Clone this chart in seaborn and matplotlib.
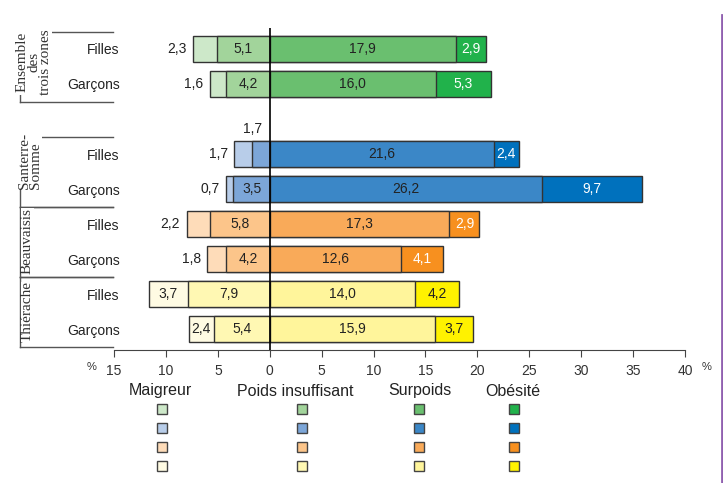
import pandas as pd
import matplotlib.pyplot as plt
import seaborn as sns
from matplotlib.patches import Rectangle
from matplotlib.lines import Line2D

# Données (en %)
rangees = ["Ensemble Filles", "Ensemble Garçons", "Santerre Filles", "Santerre Garçons",
           "Beauvaisis Filles", "Beauvaisis Garçons", "Thiérache Filles", "Thiérache Garçons"]
sexes = ["Filles", "Garçons", "Filles", "Garçons", "Filles", "Garçons", "Filles", "Garçons"]
zones = ["Ensemble\ndes\ntrois zones", "Santerre-\nSomme", "Beauvaisis", "Thiérache"]
maigreur = [2.3, 1.6, 1.7, 0.7, 2.2, 1.8, 3.7, 2.4]
poids_insuffisant = [5.1, 4.2, 1.7, 3.5, 5.8, 4.2, 7.9, 5.4]
surpoids = [17.9, 16.0, 21.6, 26.2, 17.3, 12.6, 14.0, 15.9]
obesite = [2.9, 5.3, 2.4, 9.7, 2.9, 4.1, 4.2, 3.7]
categories = ["Maigreur", "Poids insuffisant", "Surpoids", "Obésité"]

# couleurs par zone : maigreur, poids insuffisant, surpoids, obésité
couleurs = {
    "Ensemble": ["#cde8c9", "#a2d49b", "#6abf6f", "#21b24b"],
    "Santerre": ["#b8cde9", "#7ca6d8", "#3b87c7", "#0071bd"],
    "Beauvaisis": ["#fedcb9", "#fcc58a", "#f9aa59", "#f7901f"],
    "Thiérache": ["#fffbe3", "#fff8b3", "#fff59b", "#fff200"],
}

df = pd.DataFrame({"rangee": rangees, "m": maigreur, "p": poids_insuffisant,
                   "s": surpoids, "o": obesite})
df["zone"] = df["rangee"].str.split().str[0]
df["gauche_total"] = -(df["m"] + df["p"])
df["gauche_p"] = -df["p"]
df["droite_total"] = df["s"] + df["o"]
df["droite_s"] = df["s"]

# un emplacement vide entre l'ensemble et les zones
order = rangees[:2] + [" "] + rangees[2:]

plt.rcParams["font.family"] = ["Liberation Sans", "DejaVu Sans"]
fig = plt.figure(figsize=(7.23, 4.83), dpi=100)
ax = fig.add_axes([114 / 723, (483 - 350) / 483, 571 / 723, 322 / 483])

couches = [("gauche_total", 0), ("gauche_p", 1), ("droite_total", 3), ("droite_s", 2)]
for col, k in couches:
    pal = {r: couleurs[z][k] for r, z in zip(df["rangee"], df["zone"])}
    sns.barplot(data=df, x=col, y="rangee", hue="rangee", palette=pal, order=order,
                orient="h", width=0.77, edgecolor="#333333", linewidth=1,
                errorbar=None, legend=False, saturation=1, ax=ax)

ax.set_xlim(-15, 40)
ax.set_ylim(8.6, -0.6)
ax.axvline(0, color="black", lw=1.2, zorder=5)

def fr(v):
    return f"{v:.1f}".replace(".", ",")

for i, row in df.iterrows():
    y = order.index(row["rangee"])
    m, p, s, o = row["m"], row["p"], row["s"], row["o"]
    fs = 10
    # maigreur
    if m >= 2.4:
        ax.text(-p - m / 2, y, fr(m), ha="center", va="center", fontsize=fs, color="#222")
    else:
        ax.text(-p - m - 0.65, y, fr(m), ha="right", va="center", fontsize=fs, color="#222")
    # poids insuffisant
    if p < 2:
        ax.text(-p, y - 0.72, fr(p), ha="center", va="center", fontsize=fs, color="#222")
    else:
        ax.text(-p / 2, y, fr(p), ha="center", va="center", fontsize=fs, color="#222")
    ax.text(s / 2, y, fr(s), ha="center", va="center", fontsize=fs, color="#222")
    c_ob = "#222" if row["zone"] == "Thiérache" else "white"
    ax.text(s + o / 2, y, fr(o), ha="center", va="center", fontsize=fs, color=c_ob)

# axes
for side in ["top", "right", "left"]:
    ax.spines[side].set_visible(False)
ax.spines["bottom"].set_color("#444444")
ticks = list(range(-15, 41, 5))
ax.set_xticks(ticks)
ax.set_xticklabels([str(abs(t)) for t in ticks])
ax.tick_params(axis="x", length=5, color="#444444", labelsize=10, labelcolor="#333333", pad=5)
ax.set_yticks([order.index(r) for r in rangees])
ax.set_yticklabels(sexes)
ax.tick_params(axis="y", length=0, pad=-4, labelsize=10, labelcolor="#222222")
ax.set_xlabel("")
ax.set_ylabel("")
fig.text(92 / 723, 1 - 367 / 483, "%", fontsize=8, color="#333", ha="center", va="center")
fig.text(707 / 723, 1 - 367 / 483, "%", fontsize=8, color="#333", ha="center", va="center")

# séparateurs et noms de zones à gauche
trans = ax.get_yaxis_transform()
x_gauche = (20 - 114) / 571
groupes = [(-0.5, 1.5), (2.5, 4.5), (4.5, 6.5), (6.5, 8.5)]
for y0, y1 in groupes:
    for yy in (y0, y1):
        ax.plot([x_gauche, -0.002], [yy, yy], transform=trans, color="#555555", lw=1, clip_on=False)
    ax.plot([x_gauche, x_gauche], [y0, y1], transform=trans, color="#555555", lw=1, clip_on=False)

pos_zones = [(34, 62), (30, 161), (27, 241), (27, 312)]
for z, (px, py) in zip(zones, pos_zones):
    fig.text(px / 723, 1 - py / 483, z, rotation=90, ha="center", va="center",
             fontsize=11, family=["Liberation Serif", "DejaVu Serif"], color="#333",
             linespacing=0.85, multialignment="center" if z.startswith("Ens") else "left",
             bbox=dict(facecolor="white", edgecolor="none", pad=0))

# légende
x_titres = [160, 295, 420, 513]
x_carres = [162, 302, 419, 514]
y_carres = [409, 428, 447, 466]
for k, (cat, xt, xc) in enumerate(zip(categories, x_titres, x_carres)):
    fig.text(xt / 723, 1 - 391 / 483, cat, ha="center", va="center", fontsize=11.5, color="#222")
    for z, yc in zip(couleurs, y_carres):
        fig.add_artist(Rectangle(((xc - 5) / 723, 1 - (yc + 5) / 483), 10 / 723, 10 / 483,
                                 transform=fig.transFigure, facecolor=couleurs[z][k],
                                 edgecolor="#444444", lw=1))

# bord violet à droite
fig.add_artist(Line2D([721.5 / 723, 721.5 / 723], [0, 1 - 15 / 483], transform=fig.transFigure,
                      color="#9060b0", lw=2))

plt.savefig("out.png", dpi=100)
